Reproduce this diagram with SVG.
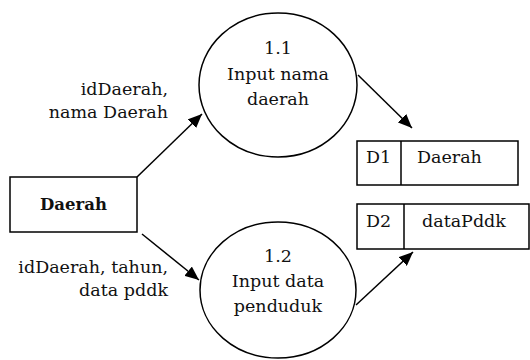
<svg xmlns="http://www.w3.org/2000/svg" width="530" height="360" viewBox="0 0 530 360">
<style>
.sh{fill:#fff;stroke:#000;stroke-width:1.5}
.ln{fill:none;stroke:#000;stroke-width:1.5}
.t{font-family:"DejaVu Serif","Liberation Serif",serif;font-size:17.5px;fill:#111}
.c{text-anchor:middle}
.e{text-anchor:end}
.b{font-weight:bold;font-size:16.5px}
</style>
<defs>
<marker id="ah" viewBox="0 0 14 12" refX="14" refY="6" markerWidth="14" markerHeight="12" markerUnits="userSpaceOnUse" orient="auto">
<path d="M0,0 L14,6 L0,12 z" fill="#000"/>
</marker>
</defs>
<rect width="530" height="360" fill="#fff"/>
<g id="connectors">
<line class="ln" x1="137" y1="177" x2="202" y2="114" marker-end="url(#ah)"/>
<line class="ln" x1="142" y1="234" x2="199" y2="280" marker-end="url(#ah)"/>
<line class="ln" x1="358" y1="75" x2="412" y2="128" marker-end="url(#ah)"/>
<line class="ln" x1="356" y1="305" x2="413" y2="252" marker-end="url(#ah)"/>
<text class="t e" x="168" y="95">idDaerah,</text>
<text class="t e" x="168" y="118">nama Daerah</text>
<text class="t e" x="168" y="273">idDaerah, tahun,</text>
<text class="t e" x="168" y="296">data pddk</text>
</g>
<g id="daerah">
<rect class="sh" x="10" y="177" width="127" height="55"/>
<text class="t c b" x="73.5" y="210">Daerah</text>
</g>
<g id="p11">
<ellipse class="sh" cx="278" cy="85" rx="79" ry="72"/>
<text class="t c" x="278" y="54">1.1</text>
<text class="t c" x="278" y="80">Input nama</text>
<text class="t c" x="278" y="105">daerah</text>
</g>
<g id="p12">
<ellipse class="sh" cx="278" cy="290" rx="78" ry="68"/>
<text class="t c" x="278" y="262">1.2</text>
<text class="t c" x="278" y="287">Input data</text>
<text class="t c" x="278" y="312">penduduk</text>
</g>
<g id="d1">
<rect class="sh" x="357" y="141" width="161" height="44"/>
<line class="ln" x1="401" y1="141" x2="401" y2="185"/>
<text class="t" x="366" y="163">D1</text>
<text class="t" x="417" y="163">Daerah</text>
</g>
<g id="d2">
<rect class="sh" x="357" y="204" width="172" height="45"/>
<line class="ln" x1="404" y1="204" x2="404" y2="249"/>
<text class="t" x="366" y="227">D2</text>
<text class="t" x="422" y="227">dataPddk</text>
</g>
</svg>
